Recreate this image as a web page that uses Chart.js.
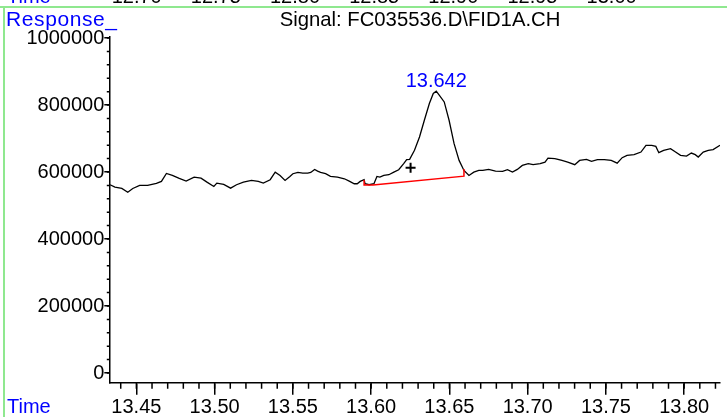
<!DOCTYPE html>
<html>
<head>
<meta charset="utf-8">
<script src="https://cdn.jsdelivr.net/npm/chart.js@4.4.1/dist/chart.umd.min.js"></script>
<style>
  html, body { margin: 0; padding: 0; background: #fff; overflow: hidden; }
  #wrap { position: relative; width: 727px; height: 417px; }
  #myChart { position: absolute; left: 0; top: 0; }
  .txt { position: absolute; font-family: 'Liberation Sans', Arial, sans-serif; font-size: 20px; line-height: 20px; white-space: nowrap; }
  .blue { color: #0000ff; }
  .frameH { position: absolute; left: 0; top: 6px; width: 727px; height: 2px; background: #8fe88f; }
  .frameV { position: absolute; left: 3px; top: 6px; width: 2px; height: 411px; background: #8fe88f; }
</style>
</head>
<body>
<div id="wrap">
  <canvas id="myChart" width="727" height="417"></canvas>
  <div class="frameH"></div>
  <div class="frameV"></div>
  <div class="txt blue" style="left:7px; top:-14px;">Time</div>
  <div id="topStrip"></div>
  <div class="txt blue" style="left:6px; top:8.6px; font-size:21px; letter-spacing:0.6px;">Response_</div>
  <div class="txt" style="left:0; width:840px; text-align:center; top:8.6px; font-size:20.3px;">Signal: FC035536.D\FID1A.CH</div>
  <div class="txt blue" style="left:7px; top:396px;">Time</div>
</div>
<script>
// 訊號資料 (時間, 響應)
var signalTime = [13.4332, 13.4363, 13.4407, 13.4445, 13.4477, 13.4521, 13.4572, 13.4628, 13.4660, 13.4692,
    13.4730, 13.4774, 13.4818, 13.4869, 13.4913, 13.4951, 13.4995, 13.5014, 13.5058, 13.5102,
    13.5140, 13.5184, 13.5235, 13.5279, 13.5311, 13.5355, 13.5387, 13.5418, 13.5450, 13.5481,
    13.5500, 13.5532, 13.5563, 13.5595, 13.5614, 13.5639, 13.5658, 13.5677, 13.5709, 13.5740,
    13.5785, 13.5829, 13.5860, 13.5892, 13.5911, 13.5930, 13.5955, 13.5961, 13.5987, 13.6018,
    13.6037, 13.6056, 13.6081, 13.6113, 13.6145, 13.6176, 13.6208, 13.6227, 13.6246, 13.6277,
    13.6309, 13.6340, 13.6372, 13.6397, 13.6416, 13.6435, 13.6467, 13.6498, 13.6530, 13.6562,
    13.6593, 13.6625, 13.6656, 13.6688, 13.6713, 13.6751, 13.6795, 13.6840, 13.6871, 13.6903,
    13.6934, 13.6966, 13.7004, 13.7035, 13.7080, 13.7111, 13.7130, 13.7174, 13.7219, 13.7256,
    13.7301, 13.7332, 13.7376, 13.7408, 13.7446, 13.7490, 13.7534, 13.7572, 13.7604, 13.7635,
    13.7680, 13.7724, 13.7756, 13.7793, 13.7819, 13.7838, 13.7869, 13.7913, 13.7945, 13.7977,
    13.8015, 13.8046, 13.8071, 13.8090, 13.8122, 13.8154, 13.8185, 13.8229];
var signalResponse = [562000, 554800, 550900, 539800, 550900, 559900, 559900, 565900, 571900, 595800,
    589800, 580800, 572800, 584700, 581700, 569800, 556900, 566800, 562900, 551800,
    562000, 569800, 574800, 571900, 566800, 577000, 599700, 589800, 574800, 586800,
    594900, 598800, 596700, 596700, 598800, 607800, 602700, 598800, 594900, 586800,
    584700, 579900, 572800, 565000, 565000, 571900, 577000, 565000, 562000, 565000,
    586800, 584700, 589800, 591900, 599700, 606900, 624900, 636800, 637700, 664700,
    704500, 754500, 804500, 834400, 841300, 829300, 809300, 754500, 684700, 634700,
    604800, 589800, 599700, 604800, 604800, 607800, 602700, 601800, 606900, 599700,
    607800, 619800, 624900, 621900, 624900, 629600, 641600, 639800, 634700, 629600,
    621900, 634700, 637700, 631700, 636800, 636800, 634700, 626600, 642800, 649700,
    651800, 659600, 679600, 679600, 676600, 657800, 664700, 669800, 659600, 649700,
    647600, 656600, 651800, 644600, 659600, 664700, 666800, 679600];

// 積分基線
var baselineTime = [13.5955, 13.5955, 13.6012, 13.6593, 13.6593];
var baselineResponse = [576300, 561400, 561400, 587700, 609300];

// 標記點 (+)
var markerTime = [13.6252];
var markerResponse = [612900];

// 刻度
var xTicks = [13.45, 13.50, 13.55, 13.60, 13.65, 13.70, 13.75, 13.80];
var yTicks = [0, 200000, 400000, 600000, 800000, 1000000];
var topStripLabels = ['12.70', '12.75', '12.80', '12.85', '12.90', '12.95', '13.00'];
var peakLabel = '13.642';

var FONT = 'Liberation Sans';

function toPoints(xs, ys) {
    return xs.map(function (x, i) { return { x: x, y: ys[i] }; });
}

// 次刻度 + 峰值標籤
var extrasPlugin = {
    id: 'extras',
    afterDraw: function (chart) {
        var ctx = chart.ctx;
        var xs = chart.scales.x, ys = chart.scales.y;
        var area = chart.chartArea;
        ctx.save();
        ctx.strokeStyle = '#000';
        ctx.lineWidth = 1.5;
        ctx.beginPath();
        for (var i = 0; i <= 40; i++) {
            var v = 13.43 + i * 0.01;
            if (v < xs.min || v > xs.max) continue;
            var px = xs.getPixelForValue(v);
            ctx.moveTo(px, area.bottom);
            ctx.lineTo(px, area.bottom + 6);
        }
        for (var j = 0; j <= 25; j++) {
            var py = ys.getPixelForValue(j * 40000);
            ctx.moveTo(area.left, py);
            ctx.lineTo(area.left - 2.5, py);
        }
        ctx.stroke();

        // 峰值標籤
        var iMax = 0;
        signalResponse.forEach(function (v, k) { if (v > signalResponse[iMax]) iMax = k; });
        var pxp = xs.getPixelForValue(signalTime[iMax]);
        var pyp = ys.getPixelForValue(signalResponse[iMax]);
        ctx.fillStyle = '#0000ff';
        ctx.font = '20px "' + FONT + '"';
        ctx.textAlign = 'center';
        ctx.textBaseline = 'alphabetic';
        ctx.fillText(peakLabel, pxp, pyp - 4);
        ctx.restore();
    }
};

// 上方被截斷的前一個圖的時間軸
var strip = document.querySelector('#topStrip');
topStripLabels.forEach(function (t, i) {
    var d = document.createElement('div');
    d.className = 'txt';
    d.textContent = t;
    d.style.top = '-14px';
    d.style.left = (136.7 + i * 79.15 - 25) + 'px';
    d.style.width = '50px';
    d.style.textAlign = 'center';
    strip.appendChild(d);
});

var chart = document.querySelector('#myChart');
var myChart = new Chart(chart, {
    type: 'line',
    data: {
        datasets: [{
            label: 'Signal',
            data: toPoints(signalTime, signalResponse),
            borderColor: '#000',
            borderWidth: 1.3,
            pointRadius: 0,
            tension: 0,
            order: 2
        }, {
            label: 'Baseline',
            data: toPoints(baselineTime, baselineResponse),
            borderColor: '#ff0000',
            borderWidth: 1.5,
            pointRadius: 0,
            tension: 0,
            order: 1
        }, {
            label: 'Marker',
            data: toPoints(markerTime, markerResponse),
            showLine: false,
            pointStyle: 'cross',
            pointRadius: 5,
            pointBorderWidth: 2,
            pointBorderColor: '#000',
            order: 0
        }]
    },
    options: {
        responsive: false,
        animation: false,
        devicePixelRatio: 1,
        layout: { padding: { left: 0, right: 0, top: 36.7, bottom: 0 } },
        plugins: {
            legend: { display: false },
            tooltip: { enabled: false },
            title: { display: false }
        },
        scales: {
            x: {
                type: 'linear',
                min: 13.4327,
                max: 13.8229,
                afterBuildTicks: function (s) { s.ticks = xTicks.map(function (v) { return { value: v }; }); },
                afterFit: function (s) { s.height = 34.3; },
                grid: { display: true, drawOnChartArea: false, drawTicks: true, tickLength: 12, color: '#000', lineWidth: 1.5 },
                border: { display: true, color: '#000', width: 1.5 },
                ticks: {
                    autoSkip: false, maxRotation: 0, padding: 1, color: '#000',
                    font: { family: FONT, size: 20 },
                    callback: function (v) { return Number(v).toFixed(2); }
                }
            },
            y: {
                min: -29000,
                max: 1004000,
                afterBuildTicks: function (s) { s.ticks = yTicks.map(function (v) { return { value: v }; }); },
                afterFit: function (s) { s.width = 109.3; },
                grid: { display: true, drawOnChartArea: false, drawTicks: true, tickLength: 5, color: '#000', lineWidth: 1.5 },
                border: { display: true, color: '#000', width: 1.5 },
                ticks: {
                    padding: 0, color: '#000',
                    font: { family: FONT, size: 20 },
                    callback: function (v) { return String(v); }
                }
            }
        }
    },
    plugins: [extrasPlugin]
});
</script>
</body>
</html>
